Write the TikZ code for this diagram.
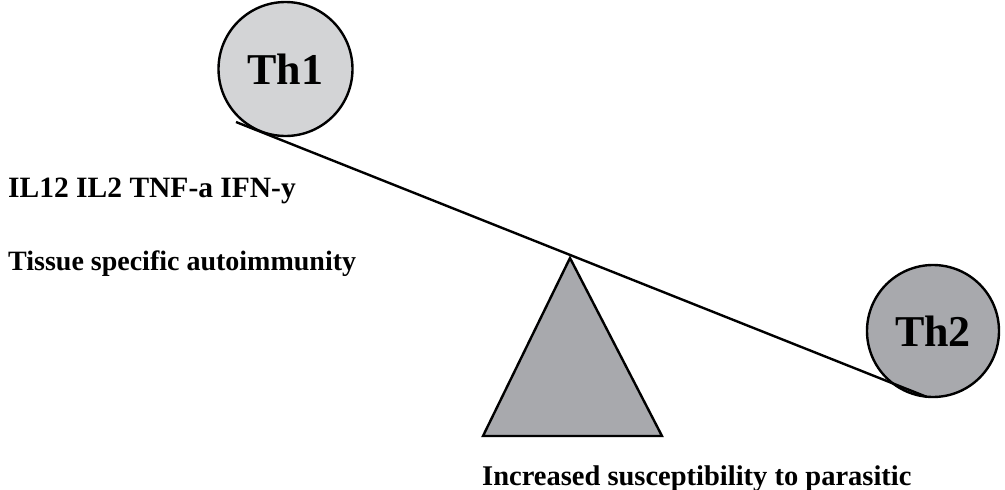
\documentclass[tikz,border=0pt]{standalone}
\usepackage{fontspec}
\setmainfont{Liberation Serif}
\definecolor{lightdisc}{RGB}{211,212,214}
\definecolor{darkdisc}{RGB}{168,169,173}
\begin{document}
\begin{tikzpicture}[x=1pt,y=-1pt,
  disc/.style={circle,draw=black,line width=2.4pt,inner sep=0pt,minimum size=134pt,
    font=\fontsize{44}{48}\selectfont\bfseries},
  label/.style={anchor=base west,inner sep=0pt,font=\fontsize{28}{32}\selectfont\bfseries},
  beam/.style={line width=2.4pt,line cap=butt}]
\useasboundingbox (0,0) rectangle (1005,490);
% the two T-helper discs
\node[disc,fill=lightdisc] (th1) at (285.5,69) {Th1};
\node[disc,fill=darkdisc,minimum size=132pt] (th2) at (933,331) {Th2};
% the fulcrum
\coordinate (apex) at (570,258);
\coordinate (baseL) at (483,436);
\coordinate (baseR) at (662,436);
\draw[fill=darkdisc,line width=2.4pt,line join=miter] (apex) -- (baseR) -- (baseL) -- cycle;
% the balance beam
\coordinate (beamL) at (236,122);
\coordinate (beamR) at (927,397);
\draw[beam] (beamL) -- (beamR);
% labels
\node[label,font=\fontsize{29.5}{32}\selectfont\bfseries] (cyto) at (8,197) {IL12 IL2 TNF-a IFN-y};
\node[label] (auto) at (8,270) {Tissue specific autoimmunity};
\node[label,font=\fontsize{28.5}{32}\selectfont\bfseries] (para) at (482,485) {Increased susceptibility to parasitic};
\end{tikzpicture}
\end{document}
